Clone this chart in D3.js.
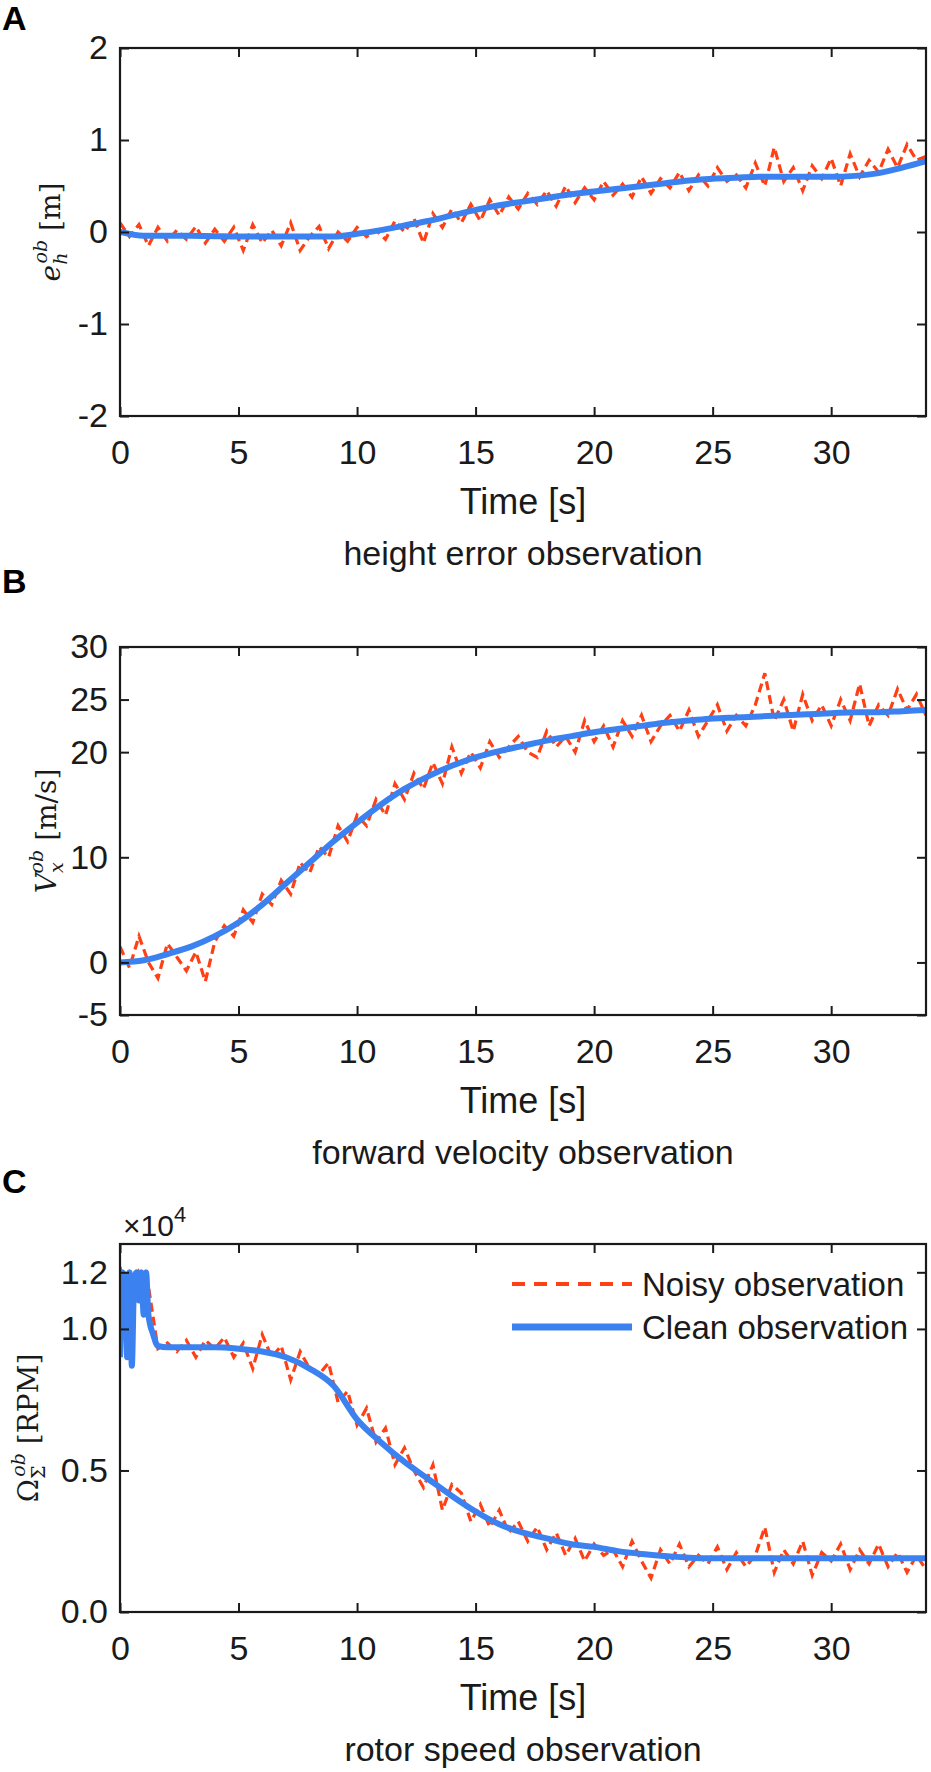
<!DOCTYPE html>
<html><head><meta charset="utf-8">
<script src="https://cdn.jsdelivr.net/npm/d3@7"></script>
<style>body{margin:0;background:#fff}svg{display:block}</style>
</head><body>
<script>
// ---- data ----
const noisyStep = 0.4;
const noisyA = [0.1,-0.05,0.08,-0.15,0.05,-0.1,0.02,-0.08,0.06,-0.12,0.03,
 -0.1,0.05,-0.2,0.08,-0.12,0.02,-0.15,0.1,-0.2,-0.05,0.06,
 -0.18,0.0,-0.1,0.05,-0.05,0.02,-0.08,0.12,0.0,0.15,-0.12,
 0.2,0.05,0.25,0.1,0.3,0.12,0.35,0.18,0.38,0.25,0.42,
 0.3,0.45,0.28,0.5,0.32,0.48,0.35,0.55,0.4,0.52,0.38,
 0.6,0.42,0.58,0.48,0.65,0.45,0.62,0.5,0.7,0.55,0.62,
 0.48,0.75,0.5,0.92,0.55,0.7,0.45,0.72,0.58,0.8,0.5,
 0.85,0.6,0.78,0.65,0.9,0.7,0.95,0.78,0.82];
const cleanTimeAB = d3.range(0,35,1);
const cleanA = [0,-0.04,-0.04,-0.04,-0.045,-0.05,-0.05,-0.05,-0.05,-0.05,-0.02,0.02,0.07,0.12,0.18,0.24,0.29,0.33,0.37,0.41,0.44,0.47,0.5,0.53,0.56,0.58,0.59,0.6,0.6,0.6,0.6,0.61,0.64,0.7,0.77];
const noisyB = [1.5,-0.5,2.5,0,-1.5,1.8,0.5,-0.8,1,-1.8,2,
 3.5,2.5,5,3.8,6.5,5.5,7.8,6.5,9.5,8.5,11,
 10,13,11.5,14,13,15.5,14,17,15.5,18,16.5,
 19,17,20.5,18,20,18.5,21,19.5,20.5,21.5,20,
 19.5,22,20.5,21.5,20,23,21,22.5,20.5,23,21.5,
 23.5,21,22.5,23.5,22,24,21.5,23,24.5,22,23.5,
 22.5,24.5,27.5,23,25,22,25.5,23,24.5,22.5,25,
 23,26.5,22.5,24.5,23.5,26,24,25.5,23.5];
const cleanB = [0,0.2,0.8,1.5,2.5,3.8,5.5,7.5,9.5,11.5,13.3,15,16.5,17.7,18.7,19.5,20.1,20.6,21.1,21.5,21.9,22.2,22.5,22.8,23.0,23.2,23.3,23.4,23.5,23.6,23.7,23.8,23.8,23.9,24.0];
const noisyC = [1.22,1.0,1.2,1.15,0.93,0.95,0.92,0.96,0.9,0.96,0.93,
 0.97,0.9,0.95,0.86,0.98,0.9,0.94,0.82,0.92,0.86,0.84,
 0.88,0.74,0.78,0.66,0.72,0.6,0.65,0.52,0.58,0.5,0.44,
 0.52,0.36,0.45,0.42,0.32,0.38,0.3,0.36,0.28,0.32,0.25,
 0.3,0.22,0.28,0.2,0.26,0.18,0.24,0.2,0.22,0.16,0.25,
 0.18,0.12,0.22,0.17,0.24,0.16,0.2,0.17,0.23,0.15,0.21,
 0.16,0.2,0.3,0.14,0.22,0.17,0.25,0.13,0.21,0.18,0.24,
 0.15,0.22,0.17,0.24,0.16,0.21,0.14,0.2,0.15];
const cleanTimeC = [0,0.1,0.2,0.3,0.4,0.5,0.6,0.7,0.8,0.9,1.0,1.1,1.2,1.4,1.6,2,3,4,5,6,7,8,9,10,11,12,13,14,15,16,17,18,19,20,21,22,23,24,25,26,27,28,29,30,31,32,33,34];
const cleanC = [0.9,1.2,1.18,0.9,1.2,0.87,1.18,1.2,1.1,1.2,1.05,1.2,1.05,0.98,0.94,0.935,0.935,0.935,0.93,0.92,0.9,0.86,0.8,0.68,0.6,0.53,0.47,0.41,0.355,0.31,0.28,0.26,0.24,0.23,0.215,0.205,0.198,0.192,0.19,0.19,0.19,0.19,0.19,0.19,0.19,0.19,0.19,0.19];
const xTicks = [0,5,10,15,20,25,30];
const yTicksA = [-2,-1,0,1,2], yTicksB = [-5,0,10,20,25,30], yTicksC = [0,0.5,1.0,1.2];
const subtitles = ["height error observation","forward velocity observation","rotor speed observation"];
const legendLabels = ["Noisy observation","Clean observation"];

const W=931,H=1772, L=120, R=926, PH=368;
const RED="#ff3f14", BLUE="#3b82f0";
const svg=d3.select("body").append("svg").attr("width",W).attr("height",H);
const x=d3.scaleLinear().domain([0,34]).range([L,R]);
const font="'Liberation Sans',Arial,sans-serif";
const intFmt=v=>String(v);
const decFmt=v=>v.toFixed(1);

const panels=[
 {letter:"A",top:48,dom:[-2,2],ticks:yTicksA,fmt:intFmt,noisy:noisyA,ct:cleanTimeAB,clean:cleanA,lab:["e","h","ob"," [m]"],lx:50,lettery:30},
 {letter:"B",top:647,dom:[-5,30],ticks:yTicksB,fmt:intFmt,noisy:noisyB,ct:cleanTimeAB,clean:cleanB,lab:["V","x","ob"," [m/s]"],lx:46,lettery:593},
 {letter:"C",top:1244,dom:[0,1.3],ticks:yTicksC,fmt:decFmt,noisy:noisyC,ct:cleanTimeC,clean:cleanC,lab:["Ω","Σ","ob"," [RPM]"],lx:28,lettery:1193}
];
panels.forEach((p,i)=>{
 const bot=p.top+PH;
 const y=d3.scaleLinear().domain(p.dom).range([bot,p.top]);
 const g=svg.append("g");
 const clip="clip"+i;
 g.append("clipPath").attr("id",clip).append("rect").attr("x",L).attr("y",p.top).attr("width",R-L).attr("height",PH);
 const line=d3.line().x(d=>x(d[0])).y(d=>y(d[1]));
 g.append("path").attr("clip-path",`url(#${clip})`).datum(p.noisy.map((v,k)=>[k*noisyStep,v]))
  .attr("d",line).attr("fill","none").attr("stroke",RED).attr("stroke-width",3.2).attr("stroke-dasharray","9,5");
 g.append("path").attr("clip-path",`url(#${clip})`).datum(p.clean.map((v,k)=>[p.ct[k],v]))
  .attr("d",line.curve(d3.curveMonotoneX)).attr("fill","none").attr("stroke",BLUE).attr("stroke-width",6).attr("stroke-linejoin","round");
 const ax=(a)=>a.tickSizeInner(-9).tickSizeOuter(0);
 g.append("g").attr("transform",`translate(0,${bot})`).call(ax(d3.axisBottom(x).tickValues(xTicks)).tickPadding(24));
 g.append("g").attr("transform",`translate(0,${p.top})`).call(ax(d3.axisTop(x).tickValues(xTicks)).tickFormat(""));
 g.append("g").attr("transform",`translate(${L},0)`).call(ax(d3.axisLeft(y).tickValues(p.ticks)).tickFormat(p.fmt).tickPadding(12));
 g.append("g").attr("transform",`translate(${R},0)`).call(ax(d3.axisRight(y).tickValues(p.ticks)).tickFormat(""));
 g.selectAll(".domain").remove();
 g.selectAll(".tick line").attr("stroke","#1a1a1a").attr("stroke-width",2);
 g.selectAll(".tick text").attr("font-family",font).attr("font-size",34).attr("fill","#1a1a1a");
 g.append("rect").attr("x",L).attr("y",p.top).attr("width",R-L).attr("height",PH).attr("fill","none").attr("stroke","#1a1a1a").attr("stroke-width",2.2);
 svg.append("text").attr("x",(L+R)/2).attr("y",bot+98).attr("text-anchor","middle").attr("font-family",font).attr("font-size",36).attr("fill","#1a1a1a").text("Time [s]");
 svg.append("text").attr("x",(L+R)/2).attr("y",bot+149).attr("text-anchor","middle").attr("font-family",font).attr("font-size",34).attr("fill","#1a1a1a").text(subtitles[i]);
 svg.append("text").attr("x",2).attr("y",p.lettery).attr("font-family",font).attr("font-weight","bold").attr("font-size",34).attr("fill","#000").text(p.letter);
 const t=svg.append("text").attr("transform",`translate(${p.lx+10},${p.top+PH/2}) rotate(-90)`).attr("text-anchor","middle")
   .attr("font-family","'DejaVu Serif','Liberation Serif',serif").attr("font-size",28).attr("fill","#1a1a1a");
 t.append("tspan").attr("font-style",i===2?"normal":"italic").text(p.lab[0]);
 t.append("tspan").attr("font-style",i===2?"normal":"italic").attr("font-size",19).attr("dy",7).text(p.lab[1]);
 t.append("tspan").attr("font-style","italic").attr("font-size",19).attr("dx",-11).attr("dy",-20).text(p.lab[2]);
 t.append("tspan").attr("dy",13).text(p.lab[3]);
 if(i===2){
  const m=svg.append("text").attr("x",123).attr("y",1236).attr("font-family",font).attr("font-size",30).attr("fill","#1a1a1a");
  m.append("tspan").text("×10");
  m.append("tspan").attr("font-size",22).attr("dy",-14).text("4");
  const lg=[{y:1284,c:RED,w:4,da:"13,9"},{y:1327,c:BLUE,w:7,da:null}];
  lg.forEach((l,k)=>{
   svg.append("line").attr("x1",512).attr("x2",632).attr("y1",l.y).attr("y2",l.y).attr("stroke",l.c).attr("stroke-width",l.w).attr("stroke-dasharray",l.da);
   svg.append("text").attr("x",642).attr("y",l.y+12).attr("font-family",font).attr("font-size",33).attr("fill","#1a1a1a").text(legendLabels[k]);
  });
 }
});
</script>
</body></html>
